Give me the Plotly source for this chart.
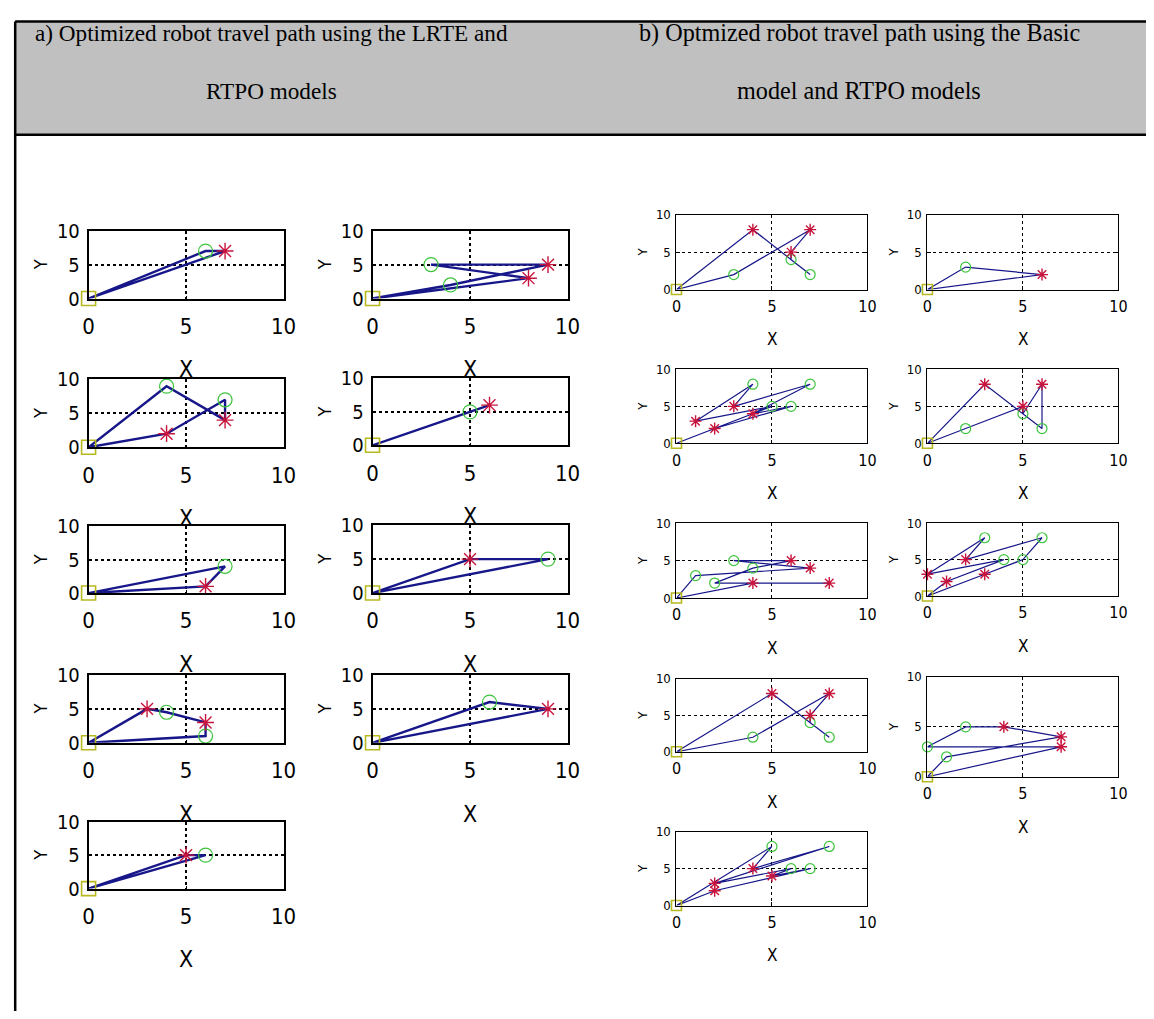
import plotly.graph_objects as go

# figure size that fits the window inside the page's 8px body margin
W, H = 1154 - 16, 1019 - 16

# observed placement of the plotting surface in the photographed window
AX, BX = 13.4, 1119.2
AY, BY = 18.0, 980.6


def px(xp):
    return (xp - AX) / BX


def py(yp):
    return 1 - (yp - AY) / BY


# ---------------- text ----------------
HEADER_A = ["a) Optimized robot travel path using the LRTE and", "RTPO models"]
HEADER_B = ["b) Optmized robot travel path using the Basic", "model and RTPO models"]
TICK_VALS = [0, 5, 10]
TICK_TEXT = ["0", "5", "10"]
AXIS_RANGE = [0, 10]
X_TITLE = "X"
Y_TITLE = "Y"

# ---------------- data: panel a (LRTE + RTPO) ----------------
a_path_x = [[0, 6, 7, 0], [0, 4, 7, 7, 4, 0], [0, 7, 6, 0], [0, 3, 4, 6, 6, 0], [0, 6, 5, 0],
            [0, 4, 9, 3, 8, 0], [0, 5, 6, 0], [0, 5, 9, 0], [0, 6, 9, 0]]
a_path_y = [[0, 7, 7, 0], [0, 9, 4, 7, 2, 0], [0, 4, 1, 0], [0, 5, 4.5, 3, 1, 0], [0, 5, 5, 0],
            [0, 2, 5, 5, 3, 0], [0, 5, 6, 0], [0, 5, 5, 0], [0, 6, 5, 0]]
a_circ_x = [[6], [4, 7], [7], [4, 6], [6], [4, 3], [5], [9], [6]]
a_circ_y = [[7], [9, 7], [4], [4.5, 1], [5], [2, 5], [5], [5], [6]]
a_star_x = [[7], [7, 4], [6], [3, 6], [5], [9, 8], [6], [5], [9]]
a_star_y = [[7], [4, 2], [1], [5, 3], [5], [5, 3], [6], [5], [5]]

# ---------------- data: panel b (Basic + RTPO) ----------------
b_path_x = [[0, 3, 7, 6, 6, 7, 4, 0], [0, 2, 6, 4, 7, 3, 4, 1, 5, 0], [0, 1, 7, 3, 6, 4, 2, 8, 4, 0],
            [0, 5, 8, 7, 7, 8, 4, 0], [0, 5, 4, 8, 2, 6, 5, 7, 2, 0],
            [0, 2, 6, 0], [0, 3, 6, 6, 5, 5, 2, 0], [0, 1, 4, 0, 3, 2, 6, 5, 3, 0], [0, 7, 0, 2, 4, 7, 1, 0]]
b_path_y = [[0, 2, 8, 5, 4, 2, 8, 0], [0, 2, 5, 4, 8, 5, 8, 3, 5, 0], [0, 3, 4, 5, 5, 4, 2, 2, 2, 0],
            [0, 8, 2, 4, 5, 8, 2, 0], [0, 8, 5, 8, 3, 5, 4, 5, 2, 0],
            [0, 3, 2, 0], [0, 8, 2, 8, 4, 5, 2, 0], [0, 2, 5, 3, 8, 5, 8, 5, 3, 0], [0, 3, 3, 5, 5, 4, 2, 0]]
b_circ_x = [[3, 6, 7], [4, 7, 6, 5], [1, 2, 3, 4], [8, 7, 4], [5, 8, 6, 7],
            [2], [6, 5, 2], [3, 6, 4, 5], [0, 2, 1]]
b_circ_y = [[2, 4, 2], [8, 8, 5, 5], [3, 2, 5, 4], [2, 4, 2], [8, 8, 5, 5],
            [3], [2, 4, 2], [8, 8, 5, 5], [3, 5, 2]]
b_star_x = [[4, 6, 7], [1, 2, 3, 4], [6, 7, 8, 4], [5, 7, 8], [2, 2, 4, 5],
            [6], [3, 6, 5], [0, 1, 2, 3], [7, 4, 7]]
b_star_y = [[8, 5, 8], [3, 2, 5, 4], [5, 4, 2, 2], [8, 5, 8], [3, 2, 5, 4],
            [2], [8, 8, 5], [3, 2, 5, 3], [3, 5, 4]]
DEPOT_X = [0]
DEPOT_Y = [0]

# ---------------- layout geometry (reference pixels: x0, x1, y0, y1) ----------------
a_boxes = [(88, 283, 229, 297), (88, 283, 378, 446), (88, 283, 525, 592), (88, 283, 674, 742), (88, 283, 821, 888),
           (372, 567, 229, 297), (372, 567, 377, 444), (372, 567, 524, 592), (372, 567, 674, 742)]
b_boxes = [(676, 867, 213, 288), (676, 867, 368, 442), (676, 867, 522, 597), (676, 867, 678, 751), (676, 867, 831, 905),
           (927, 1118, 213, 288), (927, 1118, 368, 442), (927, 1118, 522, 595), (927, 1118, 676, 776)]

LINE_COL = "#17178a"
CIRC_COL = "#3cc43c"
STAR_COL = "#c8143c"
DEPOT_COL = "#b8b820"
TICK_FONT = "Liberation Sans Narrow, Arial Narrow, DejaVu Sans Condensed, Liberation Sans, sans-serif"

fig = go.Figure()
layout = {}
annotations = []

panels = [
    dict(boxes=a_boxes, px=a_path_x, py=a_path_y, cx=a_circ_x, cy=a_circ_y, sx=a_star_x, sy=a_star_y,
         lw=2.4, msize=14, ytf=20, xtf=22, xstand=7, ystand=3, xt_off=71, xt_size=23,
         yt_off=48, yt_size=18, grid_w=1.5, box_w=1.6),
    dict(boxes=b_boxes, px=b_path_x, py=b_path_y, cx=b_circ_x, cy=b_circ_y, sx=b_star_x, sy=b_star_y,
         lw=1.2, msize=10, ytf=13, xtf=16, xstand=2, ystand=2, xt_off=50, xt_size=17,
         yt_off=34, yt_size=13, grid_w=1.0, box_w=1.2),
]

idx = 0
for p in panels:
    for k, (x0, x1, y0, y1) in enumerate(p["boxes"]):
        idx += 1
        xa = "x" if idx == 1 else f"x{idx}"
        ya = "y" if idx == 1 else f"y{idx}"
        xkey = "xaxis" if idx == 1 else f"xaxis{idx}"
        ykey = "yaxis" if idx == 1 else f"yaxis{idx}"
        common = dict(range=AXIS_RANGE, tickvals=TICK_VALS, ticktext=TICK_TEXT,
                      showline=True, linecolor="black", linewidth=p["box_w"], mirror="ticks",
                      ticks="inside", ticklen=3, tickcolor="black",
                      showgrid=True, gridcolor="black", griddash="dot", gridwidth=p["grid_w"],
                      zeroline=False, fixedrange=True)
        layout[xkey] = dict(common, domain=[px(x0), px(x1)], anchor=ya,
                            tickfont=dict(family=TICK_FONT, size=p["xtf"], color="black"),
                            ticklabelstandoff=p["xstand"])
        layout[ykey] = dict(common, domain=[py(y1), py(y0)], anchor=xa,
                            tickfont=dict(family=TICK_FONT, size=p["ytf"], color="black"),
                            ticklabelstandoff=p["ystand"])
        fig.add_trace(go.Scatter(x=p["px"][k], y=p["py"][k], mode="lines", xaxis=xa, yaxis=ya,
                                 line=dict(color=LINE_COL, width=p["lw"]), showlegend=False,
                                 hoverinfo="skip"))
        fig.add_trace(go.Scatter(x=p["cx"][k], y=p["cy"][k], mode="markers", xaxis=xa, yaxis=ya,
                                 marker=dict(symbol="circle-open", size=p["msize"], color=CIRC_COL,
                                             line=dict(width=1.2, color=CIRC_COL)),
                                 cliponaxis=False, showlegend=False))
        fig.add_trace(go.Scatter(x=p["sx"][k], y=p["sy"][k], mode="markers", xaxis=xa, yaxis=ya,
                                 marker=dict(symbol="asterisk-open", size=p["msize"], color=STAR_COL,
                                             line=dict(width=1.4, color=STAR_COL)),
                                 cliponaxis=False, showlegend=False))
        fig.add_trace(go.Scatter(x=DEPOT_X, y=DEPOT_Y, mode="markers", xaxis=xa, yaxis=ya,
                                 marker=dict(symbol="square-open", size=p["msize"], color=DEPOT_COL,
                                             line=dict(width=1.6, color=DEPOT_COL)),
                                 cliponaxis=False, showlegend=False))
        annotations.append(dict(text=X_TITLE, x=px((x0 + x1) / 2), y=py(y1 + p["xt_off"]),
                                xref="paper", yref="paper", showarrow=False, xanchor="center",
                                yanchor="middle",
                                font=dict(family=TICK_FONT, size=p["xt_size"], color="black")))
        annotations.append(dict(text=Y_TITLE, x=px(x0 - p["yt_off"]), y=py((y0 + y1) / 2),
                                xref="paper", yref="paper", showarrow=False, xanchor="center",
                                yanchor="middle", textangle=-90,
                                font=dict(family=TICK_FONT, size=p["yt_size"], color="black")))

SERIF = "Liberation Serif, Times New Roman, serif"
for lines, cx, fs in ((HEADER_A, 271, 23.2), (HEADER_B, 859, 24.2)):
    for line, cy in zip(lines, (31, 89)):
        annotations.append(dict(text=line, x=px(cx), y=py(cy), xref="paper", yref="paper",
                                showarrow=False, xanchor="center", yanchor="middle",
                                font=dict(family=SERIF, size=fs, color="black")))

TOP_Y = 19.5
LEFT_X = 14.6
shapes = [
    dict(type="rect", xref="paper", yref="paper", x0=px(LEFT_X), x1=1.02, y0=py(133), y1=py(TOP_Y),
         fillcolor="#c0c0c0", line=dict(width=0), layer="below"),
    dict(type="line", xref="paper", yref="paper", x0=px(LEFT_X), x1=1.02, y0=py(TOP_Y), y1=py(TOP_Y),
         line=dict(color="black", width=2.5)),
    dict(type="line", xref="paper", yref="paper", x0=px(LEFT_X), x1=1.02, y0=py(133), y1=py(133),
         line=dict(color="black", width=2.5)),
    dict(type="line", xref="paper", yref="paper", x0=px(LEFT_X), x1=px(LEFT_X), y0=-0.05, y1=py(TOP_Y),
         line=dict(color="black", width=2.5)),
]

fig.update_layout(width=W, height=H, margin=dict(l=0, r=0, t=0, b=0),
                  paper_bgcolor="white", plot_bgcolor="white",
                  annotations=annotations, shapes=shapes, showlegend=False, **layout)

fig.write_html("out.html", config={"displayModeBar": False})
